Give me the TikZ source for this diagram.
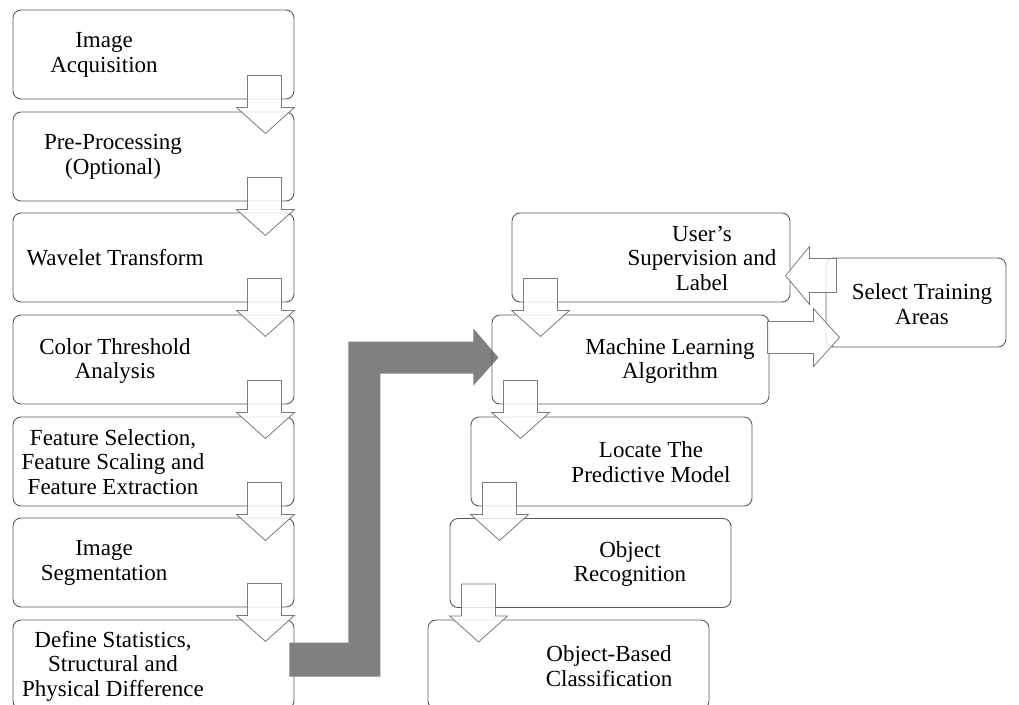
\documentclass[tikz,border=0pt]{standalone}
\usepackage{fontspec}
\setmainfont{Liberation Serif}
\usetikzlibrary{calc}
\definecolor{boxline}{HTML}{5A5A5A}
\definecolor{arrline}{HTML}{7A7A7A}
\definecolor{bigarrow}{HTML}{808080}
\tikzset{
  stagebox/.style={draw=boxline, line width=0.9pt, rounded corners=8pt,
    minimum height=89pt, inner sep=0pt},
  stagetext/.style={font=\fontsize{23}{24.5}\selectfont, align=center,
    inner sep=0pt, text=black},
  blockarrow/.style={draw=arrline, line width=0.8pt, fill=white,
    fill opacity=0.82, line join=miter},
  mainflow/.style={fill=bigarrow, draw=none},
}
% down block arrow hanging from the right end of a box (left column)
\newcommand{\downR}[1]{%
  \draw[blockarrow] ($(#1.south east)+(-47,-24)$) -- ++(34,0) -- ++(0,32)
    -- ++(13,0) -- ++(-29,26) -- ++(-29,-26) -- ++(11,0) -- cycle;}
% down block arrow hanging from the left end of a box (right column)
\newcommand{\downL}[1]{%
  \draw[blockarrow] ($(#1.south west)+(12,-24)$) -- ++(34,0) -- ++(0,32)
    -- ++(12,0) -- ++(-29,26) -- ++(-29,-26) -- ++(12,0) -- cycle;}
\begin{document}
\begin{tikzpicture}[x=1pt,y=-1pt]
\useasboundingbox (0,0) rectangle (1019,704);
\clip (0,0) rectangle (1019,704);

% ---- left column: preprocessing chain ----
\node[stagebox, minimum width=281pt] (b1) at (153.5,54.5) {};
\node[stagebox, minimum width=281pt] (b2) at (153.5,156.5) {};
\node[stagebox, minimum width=281pt] (b3) at (153.5,257.5) {};
\node[stagebox, minimum width=281pt] (b4) at (153.5,359.5) {};
\node[stagebox, minimum width=281pt] (b5) at (153.5,461.5) {};
\node[stagebox, minimum width=281pt] (b6) at (153.5,562.5) {};
\node[stagebox, minimum width=281pt] (b7) at (153.5,664.5) {};

\node[stagetext] (t1) at (104,55) {Image\\Acquisition};
\node[stagetext] (t2) at (113,157) {Pre-Processing\\(Optional)};
\node[stagetext] (t3) at (115,258) {Wavelet Transform};
\node[stagetext] (t4) at (115,361) {Color Threshold\\Analysis};
\node[stagetext] (t5) at (113,462) {Feature Selection,\\Feature Scaling and\\Feature Extraction};
\node[stagetext] (t6) at (104,563) {Image\\Segmentation};
\node[stagetext] (t7) at (113,666) {Define Statistics,\\Structural and\\Physical Difference};

% ---- main flow arrow into the learning stage ----
\coordinate (gs) at ($(b7.north east)+(-5,23)$);
\draw[mainflow] (gs) -- ++(59,0) -- ++(0,-301) -- ++(125,0) -- ++(0,-13)
  -- ++(25,29) -- ++(-25,28) -- ++(0,-12) -- ++(-93,0) -- ++(0,303)
  -- ++(-91,0) -- cycle;

% ---- right column: learning and classification ----
\node[stagebox, minimum width=278pt] (us)  at (651,257.5) {};
\node[stagebox, minimum width=277pt] (ml)  at (630.5,359.5) {};
\node[stagebox, minimum width=180pt] (sel) at (916,302.5) {};
\node[stagebox, minimum width=281pt] (loc) at (611.5,461.5) {};
\node[stagebox, minimum width=281pt] (obr) at (590.5,563) {};
\node[stagebox, minimum width=281pt] (obb) at (568.5,664.5) {};

\node[stagetext] (tus)  at (702,258) {User’s\\Supervision and\\Label};
\node[stagetext] (tml)  at (670,361) {Machine Learning\\Algorithm};
\node[stagetext] (tsel) at (922,304) {Select Training\\Areas};
\node[stagetext] (tloc) at (651,462) {Locate The\\Predictive Model};
\node[stagetext] (tobr) at (630,564) {Object\\Recognition};
\node[stagetext] (tobb) at (609,666) {Object-Based\\Classification};

% ---- block arrows between stages ----
\downR{b1}\downR{b2}\downR{b3}\downR{b4}\downR{b5}\downR{b6}
\downL{us}\downL{ml}\downL{loc}\downL{obr}

% learning algorithm -> training areas
\draw[blockarrow] ($(ml.north east)+(-2,7)$) -- ++(46,0) -- ++(0,-13)
  -- ++(26,29) -- ++(-26,29) -- ++(0,-13) -- ++(-46,0) -- cycle;
% training areas -> user's supervision
\draw[blockarrow] ($(sel.north west)+(11,1)$) -- ++(-27,0) -- ++(0,-12)
  -- ++(-24,29) -- ++(24,29) -- ++(0,-12) -- ++(27,0) -- cycle;
\end{tikzpicture}
\end{document}
